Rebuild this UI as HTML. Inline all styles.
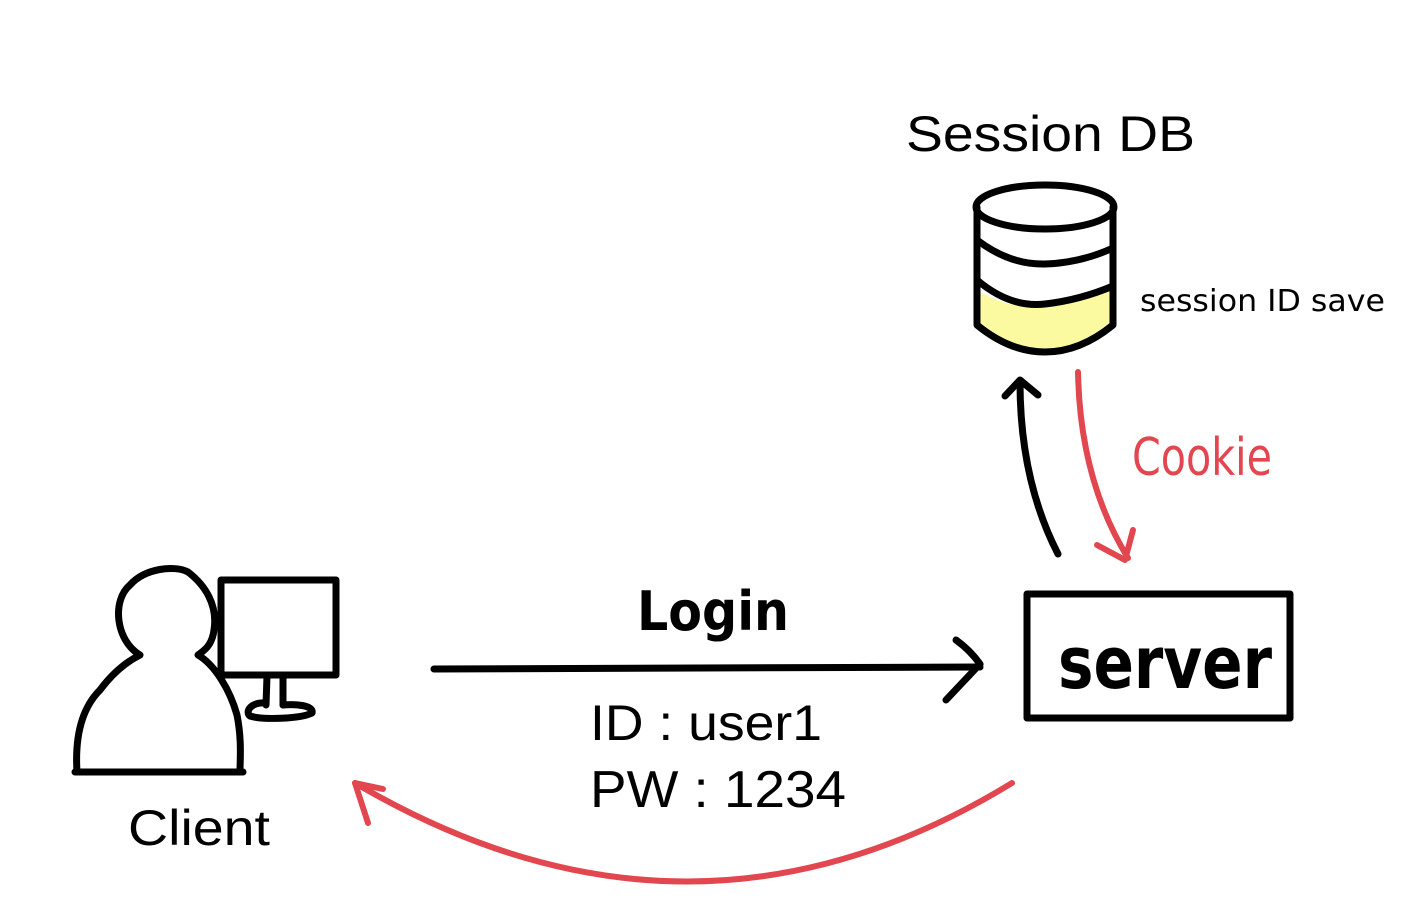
<!DOCTYPE html>
<html><head><meta charset="utf-8"><style>
html,body{margin:0;padding:0;background:#fff;width:1428px;height:916px;overflow:hidden}
svg{display:block}
.s{font-family:"Liberation Sans",Arial,sans-serif}
.hand{font-family:"DejaVu Sans",sans-serif}
</style></head><body>
<svg width="1428" height="916" viewBox="0 0 1428 916" xmlns="http://www.w3.org/2000/svg">
<g fill="none" stroke="#000" stroke-width="7" stroke-linecap="round" stroke-linejoin="round">
<path d="M980 292 Q1010 310 1045 305 Q1080 300 1112 288 L1112 325 Q1080 350 1045 350 Q1010 350 980 325 Z" fill="#fbfaa0" stroke="none"/>
<ellipse cx="1045" cy="207" rx="69" ry="22" fill="#fff"/>
<path d="M977 207 L977 325 Q1010 352 1045 352 Q1080 352 1113 325 L1113 207"/>
<path d="M977 240 Q1010 265 1045 264 Q1080 263 1113 248"/>
<path d="M977 280 Q1010 308 1045 304 Q1080 300 1113 286"/>
<path d="M140 655 C115 640 112 600 130 585 C145 568 175 565 188 572 C205 585 218 605 214 630 C212 645 205 650 198 655 C215 665 230 690 237 715 C242 740 240 760 240 772 L77 772 C75 740 80 710 100 690 C115 670 130 660 140 655 Z" fill="#fff"/>
<line x1="75" y1="772" x2="243" y2="772"/>
<rect x="221" y="580" width="115" height="95" fill="#fff"/>
<path d="M267 676 L266 705 M283 676 L283 705"/>
<path d="M266 703 C250 702 245 712 250 716 C262 720 300 719 312 713 C314 705 295 704 283 705"/>
<line x1="434" y1="669" x2="980" y2="667"/>
<path d="M956 640 Q970 650 980 664 L946 700"/>
<rect x="1027" y="594" width="263" height="124"/>
<path d="M1058 554 Q1020 480 1020 382"/>
<path d="M1005 396 L1020 380 L1038 395"/>
</g>
<g fill="none" stroke="#e2474f" stroke-width="6" stroke-linecap="round" stroke-linejoin="round">
<path d="M1078 372 Q1080 480 1128 558"/>
<path d="M1097 545 L1125 560 L1133 530"/>
<path d="M1012 783 Q690 980 355 783"/>
<path d="M383 789 L355 783 L368 823"/>
</g>
<text x="906" y="151" class="s" font-size="50" textLength="289" lengthAdjust="spacingAndGlyphs">Session DB</text>
<text x="128" y="845" class="s" font-size="50" textLength="142" lengthAdjust="spacingAndGlyphs">Client</text>
<text x="590" y="740" class="s" font-size="50" textLength="232" lengthAdjust="spacingAndGlyphs">ID : user1</text>
<text x="590" y="807" class="s" font-size="52" textLength="256" lengthAdjust="spacingAndGlyphs">PW : 1234</text>
<text x="637" y="630" class="hand" font-size="54" font-weight="bold" textLength="152" lengthAdjust="spacingAndGlyphs">Login</text>
<text x="1058" y="688" class="hand" font-size="72" font-weight="bold" textLength="214" lengthAdjust="spacingAndGlyphs">server</text>
<text x="1140" y="311" class="hand" font-size="30" textLength="245" lengthAdjust="spacingAndGlyphs">session ID save</text>
<text x="1132" y="475" class="hand" font-size="52" fill="#e2474f" textLength="140" lengthAdjust="spacingAndGlyphs">Cookie</text>
</svg>
</body></html>
